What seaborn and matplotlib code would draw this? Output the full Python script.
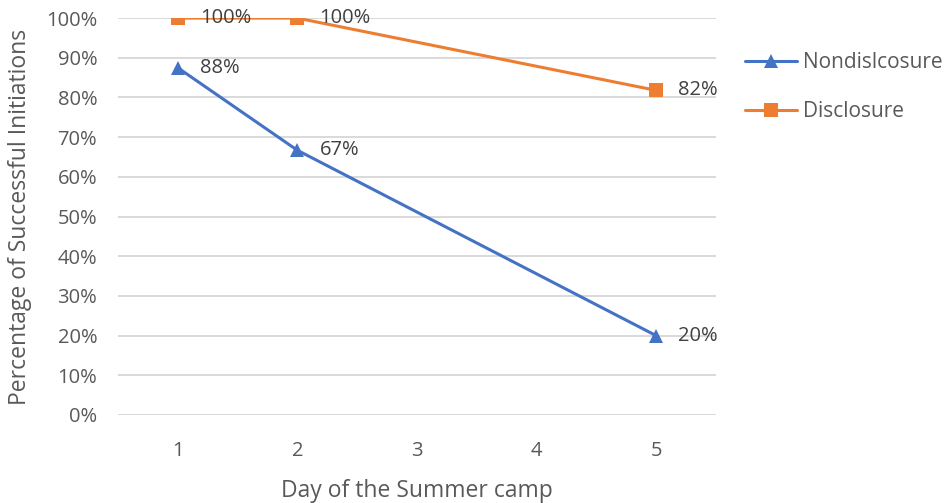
import matplotlib
matplotlib.use("Agg")
import matplotlib.pyplot as plt
import seaborn as sns
import pandas as pd

days = [1, 2, 5]
nondisclosure = [0.875, 0.667, 0.20]
disclosure = [1.00, 1.00, 0.818]
series_names = ["Nondislcosure", "Disclosure"]
x_ticks = [1, 2, 3, 4, 5]

df = pd.DataFrame({
    "day": days + days,
    "value": nondisclosure + disclosure,
    "group": [series_names[0]] * len(days) + [series_names[1]] * len(days),
})

sns.set_theme(style="white")
plt.rcParams["font.family"] = ["Open Sans", "DejaVu Sans"]
text_color = "#595959"
colors = {series_names[0]: "#4472C4", series_names[1]: "#ED7D31"}
markers = {series_names[0]: "^", series_names[1]: "s"}

fig = plt.figure(figsize=(9.46, 5.03), dpi=100)
ax = fig.add_axes([0.1247, 0.175, 0.632, 0.789])

sns.lineplot(data=df, x="day", y="value", hue="group", style="group",
             palette=colors, markers=markers, dashes=False, linewidth=2.2,
             markersize=10.5, markeredgewidth=0, ax=ax, legend=True)

for name, vals in zip(series_names, [nondisclosure, disclosure]):
    for d, v in zip(days, vals):
        ax.annotate(f"{v:.0%}", (d, v), xytext=(16, 0), textcoords="offset points",
                    ha="left", va="center", fontsize=14.5, color="#404040")

ax.set_xlim(0.5, 5.5)
ax.set_ylim(0, 1.0)
ax.set_xticks(x_ticks)
ax.set_yticks([i / 10 for i in range(11)])
ax.set_yticklabels([f"{i * 10}%" for i in range(11)])
ax.yaxis.grid(True, color="#d9d9d9", linewidth=1.4)
ax.set_axisbelow(True)
for s in ax.spines.values():
    s.set_visible(False)
ax.tick_params(axis="both", length=0, labelsize=14.5, colors=text_color)
ax.tick_params(axis="y", pad=15)
ax.tick_params(axis="x", pad=19)
ax.set_xlabel("Day of the Summer camp", fontsize=16.5, color=text_color, labelpad=12.5)
ax.set_ylabel("Percentage of Successful Initiations", fontsize=16.5, color=text_color, labelpad=10)

handles, labels = ax.get_legend_handles_labels()
leg = ax.legend(handles, labels, loc="upper left", bbox_to_anchor=(1.048, 0.915),
                frameon=False, fontsize=15, handlelength=2.5, labelspacing=1.35,
                handletextpad=0.3, borderpad=0, borderaxespad=0)
for t in leg.get_texts():
    t.set_color(text_color)

fig.savefig("out.png", dpi=100)
